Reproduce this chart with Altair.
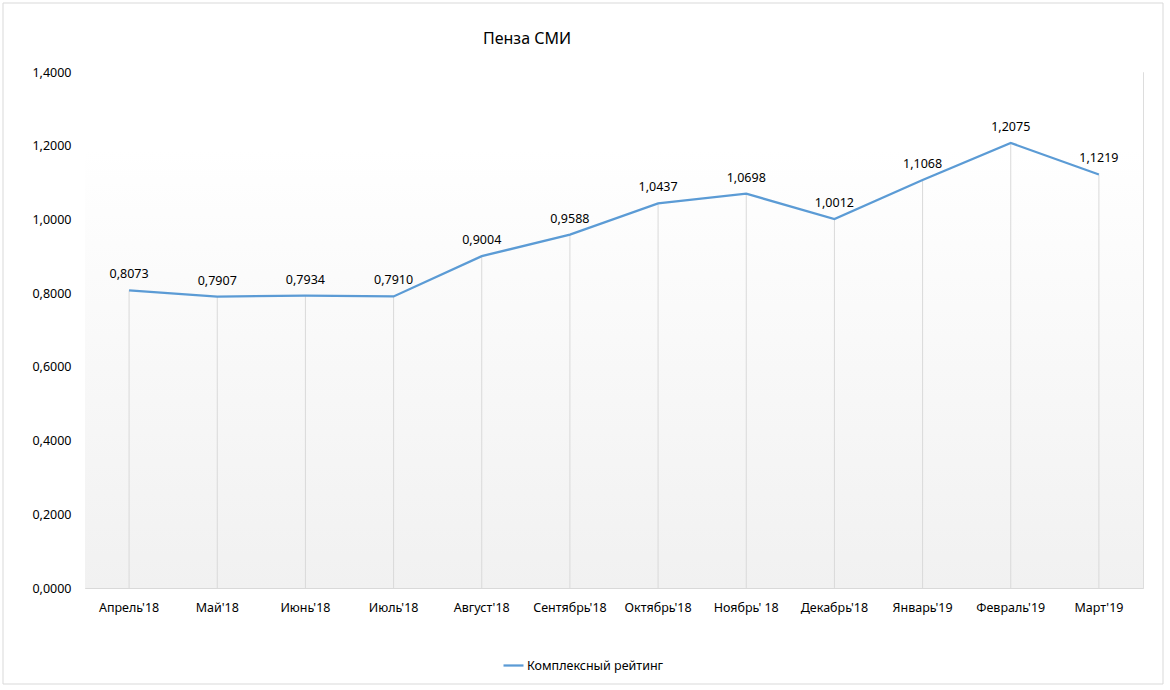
import altair as alt
import pandas as pd

months = ["Апрель'18", "Май'18", "Июнь'18", "Июль'18", "Август'18", "Сентябрь'18",
          "Октябрь'18", "Ноябрь' 18", "Декабрь'18", "Январь'19", "Февраль'19", "Март'19"]
values = [0.8073, 0.7907, 0.7934, 0.7910, 0.9004, 0.9588, 1.0437, 1.0698, 1.0012, 1.1068, 1.2075, 1.1219]
series_name = "Комплексный рейтинг"
chart_title = "Пенза СМИ"
y_ticks = [0, 0.2, 0.4, 0.6, 0.8, 1.0, 1.2, 1.4]

df = pd.DataFrame({
    "month": months,
    "value": values,
    "label": [f"{v:.4f}".replace(".", ",") for v in values],
    "series": [series_name] * len(months),
})

W, H = 1058, 516
FONT = "Noto Sans"
LINE = "#5b9bd5"

x_enc = alt.X("month:N", sort=months, scale=alt.Scale(paddingInner=0, paddingOuter=0),
              axis=alt.Axis(title=None, labelAngle=0, ticks=False, domainColor="#d9d9d9",
                            labelFont=FONT, labelFontSize=12.5, labelColor="#000000",
                            labelPadding=13, grid=False))
y_enc = alt.Y("value:Q", scale=alt.Scale(domain=[0, 1.4], nice=False),
              axis=alt.Axis(title=None, values=y_ticks, ticks=False, domain=False, grid=False,
                            labelExpr="replace(format(datum.value, '.4f'), '.', ',')",
                            labelFont=FONT, labelFontSize=12.5, labelColor="#000000",
                            labelPadding=14))

one = pd.DataFrame({"a": [0]})

bg = alt.Chart(one).mark_rect(
    color=alt.LinearGradient(gradient="linear", x1=0, x2=0, y1=0, y2=1,
                             stops=[alt.GradientStop(color="#ffffff", offset=0),
                                    alt.GradientStop(color="#ffffff", offset=0.15),
                                    alt.GradientStop(color="#f1f1f1", offset=1)])
).encode(x=alt.value(0), x2=alt.value(W), y=alt.value(0), y2=alt.value(H))

frame = alt.Chart(one).mark_rect(
    fill="#ffffff", fillOpacity=0, stroke="#d9d9d9", strokeWidth=1
).encode(x=alt.value(-82), x2=alt.value(W + 20), y=alt.value(-69), y2=alt.value(H + 96))

title = alt.Chart(one).mark_text(
    font=FONT, fontSize=16, color="#000000", align="center", baseline="alphabetic"
).encode(x=alt.value(442), y=alt.value(-28), text=alt.value(chart_title))

drops = alt.Chart(df).mark_rule(color="#d9d9d9", strokeWidth=1).encode(
    x=x_enc, y=y_enc, y2=alt.datum(0))

line = alt.Chart(df).mark_line(strokeWidth=2.25).encode(
    x=x_enc, y=y_enc,
    color=alt.Color("series:N", scale=alt.Scale(range=[LINE]),
                    legend=alt.Legend(title=None, orient="none", legendX=417, legendY=582,
                                      symbolType="stroke", symbolStrokeWidth=2.25,
                                      symbolSize=400, labelFont=FONT, labelFontSize=12.5,
                                      labelColor="#000000", labelOffset=2)))

labels = alt.Chart(df).mark_text(dy=-16, font=FONT, fontSize=12.5, color="#000000").encode(
    x=x_enc, y=y_enc, text="label:N")

chart = alt.layer(frame, bg, drops, line, labels, title).properties(
    width=W, height=H,
    autosize=alt.AutoSizeParams(type="none"),
    padding={"left": 85, "top": 72, "right": 27, "bottom": 102},
).configure_view(stroke=None).configure(background="#ffffff")

chart.save("out.html", embed_options={"renderer": "svg", "actions": False})
